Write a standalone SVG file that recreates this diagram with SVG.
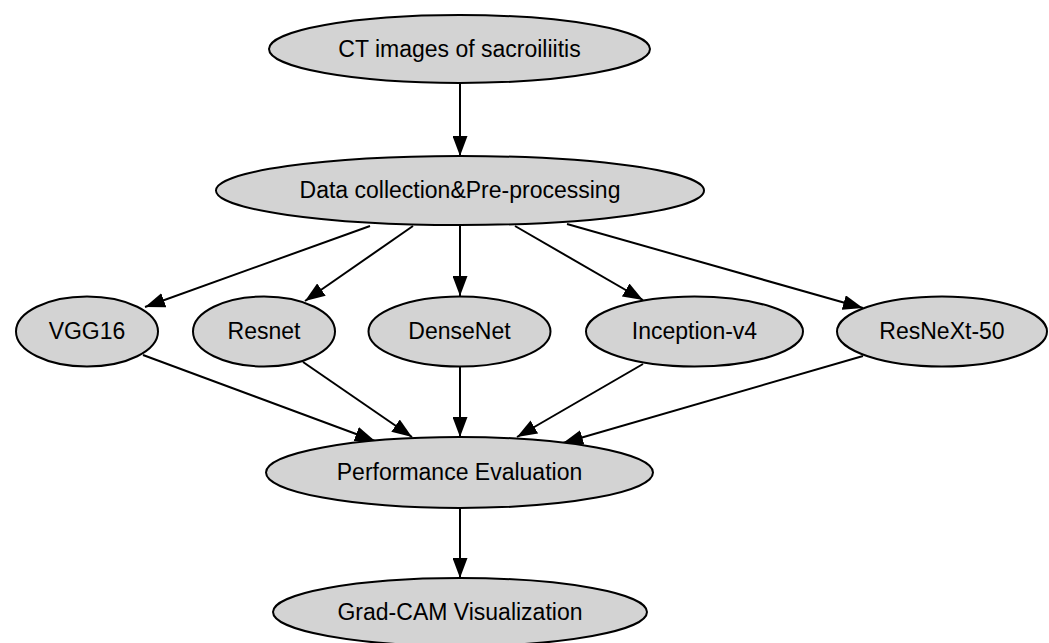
<svg xmlns="http://www.w3.org/2000/svg" width="1049" height="643" viewBox="0 0 1049 643">
  <style>
    .node ellipse { fill: #d3d3d3; stroke: #000; stroke-width: 2; }
    .node text { font-family: "Liberation Sans", Arial, sans-serif; font-size: 23px; fill: #000; text-anchor: middle; }
    .edges line { stroke: #000; stroke-width: 2; marker-end: url(#arrow); }
  </style>
  <defs>
    <marker id="arrow" viewBox="0 0 20 15" refX="20" refY="7.5" markerWidth="20" markerHeight="15" markerUnits="userSpaceOnUse" orient="auto">
      <path d="M0,0 L20,7.5 L0,15 z" fill="#000"/>
    </marker>
  </defs>
  <rect width="1049" height="643" fill="#fff"/>

  <g class="edges">
    <line x1="460" y1="83" x2="460" y2="156"/>
    <line x1="370" y1="226" x2="145" y2="307"/>
    <line x1="413" y1="226" x2="305" y2="301"/>
    <line x1="460" y1="226" x2="460" y2="296"/>
    <line x1="515" y1="226" x2="643" y2="300"/>
    <line x1="567" y1="224" x2="863" y2="308"/>
    <line x1="143" y1="355" x2="375" y2="441"/>
    <line x1="303" y1="362" x2="412" y2="437"/>
    <line x1="460" y1="367" x2="460" y2="437"/>
    <line x1="643" y1="364" x2="517" y2="437"/>
    <line x1="863" y1="356" x2="563" y2="443"/>
    <line x1="460" y1="508" x2="460" y2="578"/>
  </g>

  <g id="ct" class="node">
    <ellipse cx="459.5" cy="49" rx="190.5" ry="34"/>
    <text x="459.5" y="56.5">CT images of sacroiliitis</text>
  </g>
  <g id="data" class="node">
    <ellipse cx="460" cy="190.5" rx="244" ry="34.5"/>
    <text x="460" y="198">Data collection&amp;Pre-processing</text>
  </g>
  <g id="vgg16" class="node">
    <ellipse cx="87" cy="331.5" rx="71" ry="35"/>
    <text x="87" y="339">VGG16</text>
  </g>
  <g id="resnet" class="node">
    <ellipse cx="264" cy="331.5" rx="71" ry="35"/>
    <text x="264" y="339">Resnet</text>
  </g>
  <g id="densenet" class="node">
    <ellipse cx="459.5" cy="331.5" rx="91" ry="35"/>
    <text x="459.5" y="339">DenseNet</text>
  </g>
  <g id="inception" class="node">
    <ellipse cx="694.5" cy="331.5" rx="108.5" ry="35"/>
    <text x="694.5" y="339">Inception-v4</text>
  </g>
  <g id="resnext" class="node">
    <ellipse cx="942" cy="331.5" rx="105" ry="35"/>
    <text x="942" y="339">ResNeXt-50</text>
  </g>
  <g id="perf" class="node">
    <ellipse cx="459.5" cy="472.5" rx="193.5" ry="35.5"/>
    <text x="459.5" y="480">Performance Evaluation</text>
  </g>
  <g id="gradcam" class="node">
    <ellipse cx="460" cy="612" rx="187" ry="34"/>
    <text x="460" y="620">Grad-CAM Visualization</text>
  </g>
</svg>
